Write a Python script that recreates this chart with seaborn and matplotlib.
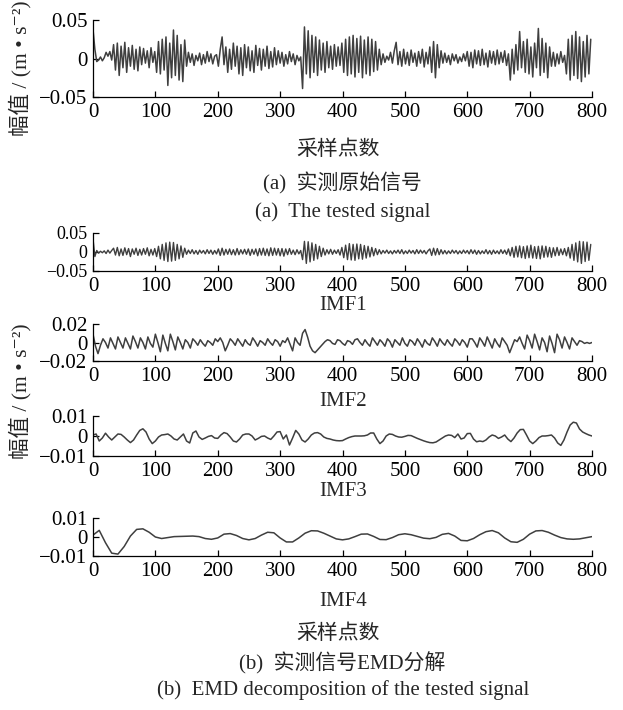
import numpy as np
import matplotlib
matplotlib.use("Agg")
import matplotlib.pyplot as plt
import seaborn as sns

# ==========================
# Data (units of 1e-3 m/s^2)
# ==========================

signal_step = 3
signal_milli = [
    38, 12, -4, -2, 2, -3, 1, 8, 3, 9, -2,
    18, -15, 20, -22, 16, -12, 21, -18,
    14, -10, 17, -14, 12, -16, 15, -8,
    13, -6, 10, -12, 14, -5, 9,
    -18, 22, -20, 25, -15, 28, -35, 20, -25, 37, -22, 30, -28, 18, -30, 24,
    -10, 8, -5, 6, -9, 4, -3, 7, -8, 5, -6, 9, -4, 6, -7, 3, 5,
    -10, 12, 28,
    -8, 15, -18, 12, -14, 20, -10, 16, -20, 14, -22, 18, -12, 15, -16,
    10, -18, 17, -9, 13, -15, 12, -10, 16, -13, 9, -11, 14, -8, 10,
    -6, 8, -10, 5, -7, 9, -4, 6, -8, 4, -3, 2,
    -39, 41,
    -20, 36, -25, 30, -18, 28, -22, 24, -15, 20, -18, 22, -12, 16, -14, 18, -10, 15, -9,
    20, -18, 25, -22, 28, -20, 30, -24, 26, -18, 29, -25, 24, -20, 28, -22, 25, -17, 22, -15, 12,
    -8, 6, -5, 3, -2,
    8, -6, 10, 21, -8, 9, -10, 12, -7, 8, -9, 11, -5, 7, -10, 9, -6, 12, -11, 8, -7,
    15, -18, 22, -25, 18, -12, 10,
    -6, 7, -5, 4, -8, 6, -3, 5, -6, 2, -4, 6, -3,
    9, -10, 8, -12, 11, -7, 10, -9, 12, -8, 7, -11, 10, -6, 9, -8, 11, -7, 8, -5, 10, -9, 6,
    -28, 12, -20, 18, -15, 35, -12,
    22, -18, 25, -20, 15, -24, 20, -12, 39, -22, 26, -18, 20, -25, 15, -10,
    8, -10, 6, -7, 9, -5, 4,
    -20, 25, -28, 30, -22, 35, -26, 28, -30, 22, -24, 30, -20, 25,
]

imf1_step = 3
imf1_milli = [
    35, -12, 4, -3, 2, -2, 3, -4, 5, -3, 4,
    10, -8, 12, -10, 8, -9, 11, -7, 9, -12, 8, -6, 10, -9, 7, -8, 9, -6, 11, -10, 7, -8, 9,
    -12, 15, -18, 20, -22, 24, -25, 26, -24, 25, -22, 20, -18, 16, -14, 10,
    -6, 5, -4, 6, -5, 4, -6, 5, -3, 4, -5, 6, -4, 5, -6, 4, -5,
    8, -9, 10, -8, 7, -6, 8, -7, 6, -8, 9, -7, 6, -5, 7, -6, 8, -9, 7, -6,
    8, -10, 9, -8, 10, -9, 8, -10, 11, -9, 10, -8, 9,
    -10, 9, -11, 8, -7, 9, -6, 5, -7, 6, -5, 4,
    -20, 28, -30, 27, -26, 24, -22, 20, -18, 15, -12, 10, -8,
    6, -5, 7, -6, 5, -4, 6, -8,
    12, -15, 18, -20, 22, -21, 20, -22, 21, -18, 20, -19, 17, -16, 15, -13, 12, -10, 9, -7, 6,
    -5, 4, -3, 5, -4, 3, -5, 4, -3, 5, -4, 6, -5, 3, -4, 5, -3, 4, -5, 6, -4, 5, -3, 4, -5, 3,
    8, -9, 10, -8, 9, -7, 6, -5, 4, -5, 3, -4, 5, -3, 4, -5, 3, -4, 5, -3,
    4, -5, 6, -4, 5, -6, 4, -5, 3, -4, 6, -5, 4, -6, 5, -4, 3, -5, 6, -4, 5, -6, 8,
    -10, 12, -14, 15, -13, 16, -15, 14, -17, 16, -15, 18, -16, 14, -17, 15, -18, 16, -14, 15,
    -13, 12, -14, 11, -10, 12, -9,
    8, -7, 9, -10, 12,
    -16, 20, -22, 24, -26, 28, -30, 27, -25, 26, -22, 20,
]

imf2_step = 4
imf2_milli = [
    9, -4, -12, -3, 4, 0, -6,
    5, -1, -7, 6, 0, -6, 5, -1, -7, 7, 1, -6, 5, 0, -7, 6, -1, -5,
    9, 0, -10, 8, -1, -9, 9, 1, -8, 6, 0, -7,
    3, 0, -6, 4, 1, -3, 3, -1, -4, 2, 0, -3, 4, 1,
    5, 0, -9, -3, 4, 1, -3,
    4, 0, -4, 3, -1, -3, 5, 1, -4, 2, 0, -3, 4, 0, -3, 3, 1, -4, 2, 0,
    5, -2, -9, 5, 0, -3,
    10, 14, 6, -4, -9, -11, -8, -5, -2, 1, 3,
    2, -1, -2, 3, 2, -1, -3, 2, 1, -2, 3,
    4, 0, -3, 3, -1, -4, 5, 1, -3, 3, 0, -4, 4, 1, -5, 3, 0, -3, 5, -1, -4, 3, 1, -3,
    4, 0, -5, 3, -1, -3, 5, 1, -4, 4, 0, -3, 3, -1, -4, 4, 1, -3, 3, 0, -5, 4,
    4, 0, -5, 5, 1, -4, 6, 0, -6, 4, -1, -5, 5, 1, -3,
    -11, -4, 3, 1,
    6, -1, -7, 8, 2, -6, 9, 1, -8, 5, 0, -10, 7, -1, -11, 9, 3, -6, 6, 0, -7, 5, 1, -3, 2,
    1, -1, 0, -1, 0,
]

imf3_step = 5
imf3_milli = [
    0.5, 1.0, -2.5, -1.0, 1.4, -0.5, -2.0, -0.5, 1.0, 0.8,
    -0.5, -2.0, -3.3, -2.0, 0.5, 2.8, 3.6, 2.0, -1.5, -3.8,
    -2.5, -0.5, 0.5, 0.7, 1.0, 0.0, -1.5, -2.0, -0.5, 1.0,
    -2.5, -3.5, 1.5, 2.5, -0.5, -1.7, -1.0, -0.2, 0.2, -1.0,
    -1.2, 0.5, 1.7, 1.2, -0.5, -2.5, -3.0, -1.5, 0.5, 1.0,
    1.0, 0.0, -2.0, -1.2, -0.2, 0.0, -1.0, -1.7, 0.0, 2.0,
    2.2, -1.5, 0.5, -4.5, -1.0, 2.8, 1.0, -2.0, -3.0, -1.5,
    0.5, 1.5, 1.7, 1.0, -0.5, -1.2, -1.5, -2.0, -2.3, -2.4,
    -2.3, -1.5, -0.8, -0.3, 0.0, 0.0, 0.0, 0.1, 0.5, 1.5,
    1.5, -1.5, -3.8, -2.5, 0.0, 1.0, 0.8, 0.0, -0.5, -0.6,
    -0.2, 0.3, 0.2, -0.5, -1.2, -1.8, -2.4, -2.9, -3.3, -3.4,
    -3.0, -2.0, -1.0, 0.0, 0.5, 0.3, -0.8, 1.0, -1.5, -1.0,
    1.2, 1.3, -1.5, -2.9, -2.5, -2.8, -2.0, -0.5, 0.5, 0.0,
    -1.2, -0.5, 0.5, -1.5, -2.8, -1.0, 1.5, 3.2, 3.3, 0.5,
    -2.5, -3.8, -2.5, -0.8, 0.0, 0.0, 0.2, 0.5, -1.0, -3.5,
    -4.7, -2.0, 2.0, 5.5, 6.9, 6.5, 3.5, 2.0, 1.2, 0.5, 0.0,
]

imf4_step = 10
imf4_milli = [
    1.0, 3.5, -3.0, -8.5, -9.0, -5.0, 0.5, 4.0, 4.3, 2.5,
    0.0, -0.8, -0.3, 0.2, 0.3, 0.4, 0.5, 0.2, -0.8, -1.2,
    -0.5, 1.5, 1.8, 0.8, -0.8, -1.5, -0.8, 1.0, 2.5, 2.2,
    -0.5, -2.6, -2.6, -0.5, 2.0, 3.3, 3.2, 2.0, 0.5, -1.0,
    -1.5, -1.0, 0.2, 1.5, 1.6, 0.3, -1.3, -1.4, -0.3, 1.2,
    1.7, 1.2, 0.3, -0.6, -0.9, -0.2, 1.4, 1.9, 0.5, -1.8,
    -2.0, -0.8, 1.2, 2.8, 3.4, 2.2, -0.5, -2.5, -2.8, -1.2,
    1.5, 3.2, 3.4, 2.5, 1.0, -0.3, -1.0, -1.2, -1.0, -0.4,
    0.2,
]

x_ticks = [0, 100, 200, 300, 400, 500, 600, 700, 800]
yticks_05 = [-0.05, 0, 0.05]
ylabels_05 = ["\u22120.05", "0", "0.05"]
yticks_02 = [-0.02, 0, 0.02]
ylabels_02 = ["\u22120.02", "0", "0.02"]
yticks_01 = [-0.01, 0, 0.01]
ylabels_01 = ["\u22120.01", "0", "0.01"]

LINE = "#3f3f3f"
FS = 15

# ==========================
# Style
# ==========================

sns.set_theme(style="ticks")
plt.rcParams["font.family"] = ["Liberation Serif", "DejaVu Serif", "Noto Sans CJK SC"]
plt.rcParams["axes.unicode_minus"] = True


def draw(ax, values, step, yticks, ylabels, lw=1.0, ysize=FS):
    y = np.array(values) / 1000.0
    t = np.arange(len(y)) * step
    sns.lineplot(x=t, y=y, ax=ax, color=LINE, linewidth=lw, estimator=None)
    ax.set_xlim(0, 800)
    ax.set_ylim(yticks[0], yticks[-1])
    ax.set_xticks(x_ticks)
    ax.set_xticklabels([str(v) for v in x_ticks])
    ax.set_yticks(yticks)
    ax.set_yticklabels(ylabels)
    ax.set_xlabel("")
    ax.set_ylabel("")
    ax.tick_params(direction="in", length=4, width=0.9, labelsize=FS,
                   colors="black", pad=4)
    ax.tick_params(axis="y", labelsize=ysize)
    for side in ["left", "bottom"]:
        ax.spines[side].set_linewidth(0.9)
        ax.spines[side].set_color("black")
    sns.despine(ax=ax)


fig = plt.figure(figsize=(6.23, 7.10), dpi=100)
left, width = 93 / 623, 499 / 623


def rect(top, bottom):
    return [left, 1 - bottom / 710, width, (bottom - top) / 710]


ax_a = fig.add_axes(rect(20, 97))
draw(ax_a, signal_milli, signal_step, yticks_05, ylabels_05, lw=1.1)

ax_b1 = fig.add_axes(rect(233, 271))
draw(ax_b1, imf1_milli, imf1_step, yticks_05, ylabels_05, lw=1.0, ysize=13)

ax_b2 = fig.add_axes(rect(324, 361))
draw(ax_b2, imf2_milli, imf2_step, yticks_02, ylabels_02, lw=1.1)

ax_b3 = fig.add_axes(rect(416, 456))
draw(ax_b3, imf3_milli, imf3_step, yticks_01, ylabels_01, lw=1.1)

ax_b4 = fig.add_axes(rect(518, 556))
draw(ax_b4, imf4_milli, imf4_step, yticks_01, ylabels_01, lw=1.1)

# ==========================
# Captions
# ==========================

cx = 0.55


def label(y_px, s, x=cx):
    fig.text(x, 1 - y_px / 710, s, ha="center", va="center", fontsize=FS)


label(150, "采样点数", x=0.542)
label(183, "(a)  实测原始信号")
label(212, "(a)  The tested signal")
label(305, "IMF1")
label(402, "IMF2")
label(491, "IMF3")
label(601, "IMF4")
label(634, "采样点数", x=0.542)
label(663, "(b)  实测信号EMD分解")
label(690, "(b)  EMD decomposition of the tested signal")

ylab = "幅值 / (m \u2022 s\u207b\u00b2)"
fig.text(0.033, 1 - 68 / 710, ylab, rotation=90, ha="center", va="center", fontsize=15.5)
fig.text(0.033, 1 - 391 / 710, ylab, rotation=90, ha="center", va="center", fontsize=15.5)

fig.savefig("out.png", dpi=100)
